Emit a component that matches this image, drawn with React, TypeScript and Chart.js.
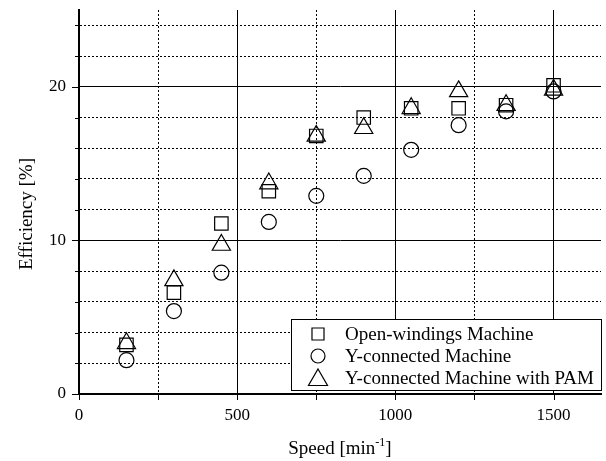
import React, { useEffect, useRef } from "react";
import { Chart, registerables } from "chart.js";

Chart.register(...registerables);

const speeds = [150, 300, 450, 600, 750, 900, 1050, 1200, 1350, 1500];
const openWindings = [3.2, 6.6, 11.1, 13.2, 16.8, 18.0, 18.6, 18.6, 18.8, 20.1];
const yConnected = [2.2, 5.4, 7.9, 11.2, 12.9, 14.2, 15.9, 17.5, 18.4, 19.7];
const yConnectedPam = [3.3, 7.4, 9.7, 13.7, 16.8, 17.3, 18.6, 19.7, 18.8, 19.8];
const seriesLabels = ["Open-windings Machine", "Y-connected Machine", "Y-connected Machine with PAM"];
const xTickLabels = [0, 500, 1000, 1500];
const yTickLabels = [0, 10, 20];

const FONT = '"Liberation Serif", "Times New Roman", serif';

function drawMarker(ctx: CanvasRenderingContext2D, style: string, x: number, y: number, r: number) {
  ctx.beginPath();
  if (style === "rect") {
    const s = r * Math.SQRT1_2;
    ctx.rect(x - s, y - s, 2 * s, 2 * s);
  } else if (style === "circle") {
    ctx.arc(x, y, r, 0, Math.PI * 2);
  } else {
    ctx.moveTo(x, y - r);
    ctx.lineTo(x + r * Math.sin(Math.PI / 3), y + r * 0.5);
    ctx.lineTo(x - r * Math.sin(Math.PI / 3), y + r * 0.5);
    ctx.closePath();
  }
  ctx.stroke();
}

const zeroPad = (s: any) => {
  s.paddingTop = 0;
  s.paddingBottom = 0;
  s.paddingLeft = 0;
  s.paddingRight = 0;
};

const decorPlugin = {
  id: "decor",
  afterDraw(chart: any) {
    const ctx: CanvasRenderingContext2D = chart.ctx;
    const xs = chart.scales.x;
    const ys = chart.scales.y;
    const area = chart.chartArea;
    ctx.save();
    ctx.strokeStyle = "#000";
    ctx.lineWidth = 1;
    // x ticks
    xs.ticks.forEach((t: any) => {
      const px = Math.round(xs.getPixelForValue(t.value)) + 0.5;
      ctx.beginPath();
      ctx.moveTo(px, area.bottom);
      ctx.lineTo(px, area.bottom + 6);
      ctx.stroke();
    });
    // y ticks
    ys.ticks.forEach((t: any) => {
      const py = Math.round(ys.getPixelForValue(t.value)) + 0.5;
      const len = t.value % 10 === 0 ? 7 : 4;
      ctx.beginPath();
      ctx.moveTo(area.left - len, py);
      ctx.lineTo(area.left, py);
      ctx.stroke();
    });

    // legend
    const lx = 291, ly = 319, lw = 310, lh = 71;
    ctx.fillStyle = "#fff";
    ctx.fillRect(lx, ly, lw, lh);
    ctx.lineWidth = 1;
    ctx.strokeStyle = "#000";
    ctx.strokeRect(lx + 0.5, ly + 0.5, lw, lh);
    const rows = [334, 356, 378];
    const styles = ["rect", "circle", "triangle"];
    const radii = [8.5, 7, 11];
    ctx.font = `19px ${FONT}`;
    ctx.fillStyle = "#000";
    ctx.textBaseline = "middle";
    ctx.textAlign = "left";
    chart.data.datasets.forEach((ds: any, i: number) => {
      ctx.lineWidth = 1.2;
      drawMarker(ctx, styles[i], 318, rows[i] + (i === 2 ? 2 : 0), radii[i]);
      ctx.fillText(ds.label, 345, rows[i] + 1);
    });

    // y title
    ctx.save();
    ctx.translate(27, 214);
    ctx.rotate(-Math.PI / 2);
    ctx.textAlign = "center";
    ctx.textBaseline = "middle";
    ctx.font = `19px ${FONT}`;
    ctx.fillText("Efficiency [%]", 0, 0);
    ctx.restore();

    // x title with superscript
    const p1 = "Speed [min";
    const sup = "-1";
    const p2 = "]";
    ctx.textBaseline = "alphabetic";
    ctx.textAlign = "left";
    ctx.font = `19px ${FONT}`;
    const w1 = ctx.measureText(p1).width;
    const w3 = ctx.measureText(p2).width;
    ctx.font = `12px ${FONT}`;
    const w2 = ctx.measureText(sup).width;
    const total = w1 + w2 + w3;
    let cx = (area.left + area.right) / 2 - total / 2;
    const base = 454;
    ctx.font = `19px ${FONT}`;
    ctx.fillText(p1, cx, base);
    cx += w1;
    ctx.font = `12px ${FONT}`;
    ctx.fillText(sup, cx, base - 8);
    cx += w2;
    ctx.font = `19px ${FONT}`;
    ctx.fillText(p2, cx, base);
    ctx.restore();
  },
};

export default function App() {
  const ref = useRef<HTMLCanvasElement | null>(null);
  useEffect(() => {
    if (!ref.current) return;
    const mk = (data: number[]) => speeds.map((x, i) => ({ x, y: data[i] }));
    const chart = new Chart(ref.current, {
      type: "scatter",
      data: {
        datasets: [
          { label: seriesLabels[0], data: mk(openWindings), pointStyle: "rect", pointRadius: 9.5, borderColor: "#000", backgroundColor: "rgba(0,0,0,0)", borderWidth: 1.2 },
          { label: seriesLabels[1], data: mk(yConnected), pointStyle: "circle", pointRadius: 7.5, borderColor: "#000", backgroundColor: "rgba(0,0,0,0)", borderWidth: 1.2 },
          { label: seriesLabels[2], data: mk(yConnectedPam), pointStyle: "triangle", pointRadius: 10.5, borderColor: "#000", backgroundColor: "rgba(0,0,0,0)", borderWidth: 1.2 },
        ],
      },
      options: {
        responsive: false,
        animation: false,
        events: [],
        layout: { autoPadding: false, padding: { top: 10, right: 5, left: 0, bottom: 0 } },
        plugins: { legend: { display: false }, tooltip: { enabled: false } },
        scales: {
          x: {
            type: "linear",
            min: 0,
            max: 1650,
            afterBuildTicks: (s: any) => {
              s.ticks = [];
              for (let v = 0; v <= 1500; v += 250) s.ticks.push({ value: v });
            },
            afterFit: (s: any) => { s.height = 67; zeroPad(s); },
            ticks: {
              font: { family: FONT, size: 17 },
              color: "#000",
              padding: 11,
              maxRotation: 0,
              autoSkip: false,
              callback: (v: any) => (xTickLabels.includes(Number(v)) ? String(v) : ""),
            },
            grid: {
              drawTicks: false,
              color: "#000",
              lineWidth: 1,
            },
            border: {
              display: true,
              color: "#000",
              width: 2,
              dash: (c: any) => (c.tick && c.tick.value % 500 !== 0 ? [2, 2] : []),
            },
          },
          y: {
            type: "linear",
            min: 0,
            max: 25,
            afterBuildTicks: (s: any) => {
              s.ticks = [];
              for (let v = 0; v <= 24; v += 2) s.ticks.push({ value: v });
            },
            afterFit: (s: any) => { s.width = 79; zeroPad(s); },
            ticks: {
              font: { family: FONT, size: 17 },
              color: "#000",
              padding: 13,
              autoSkip: false,
              callback: (v: any) => (yTickLabels.includes(Number(v)) ? String(v) : ""),
            },
            grid: {
              drawTicks: false,
              color: "#000",
              lineWidth: 1,
            },
            border: {
              display: true,
              color: "#000",
              width: 2,
              dash: (c: any) => (c.tick && c.tick.value % 10 !== 0 ? [2, 2] : []),
            },
          },
        },
      } as any,
      plugins: [decorPlugin],
    });
    return () => chart.destroy();
  }, []);
  return (
    <div style={{ position: "absolute", left: 0, top: 0, width: 606, height: 461, background: "#fff" }}>
      <canvas ref={ref} width={606} height={461} />
    </div>
  );
}
